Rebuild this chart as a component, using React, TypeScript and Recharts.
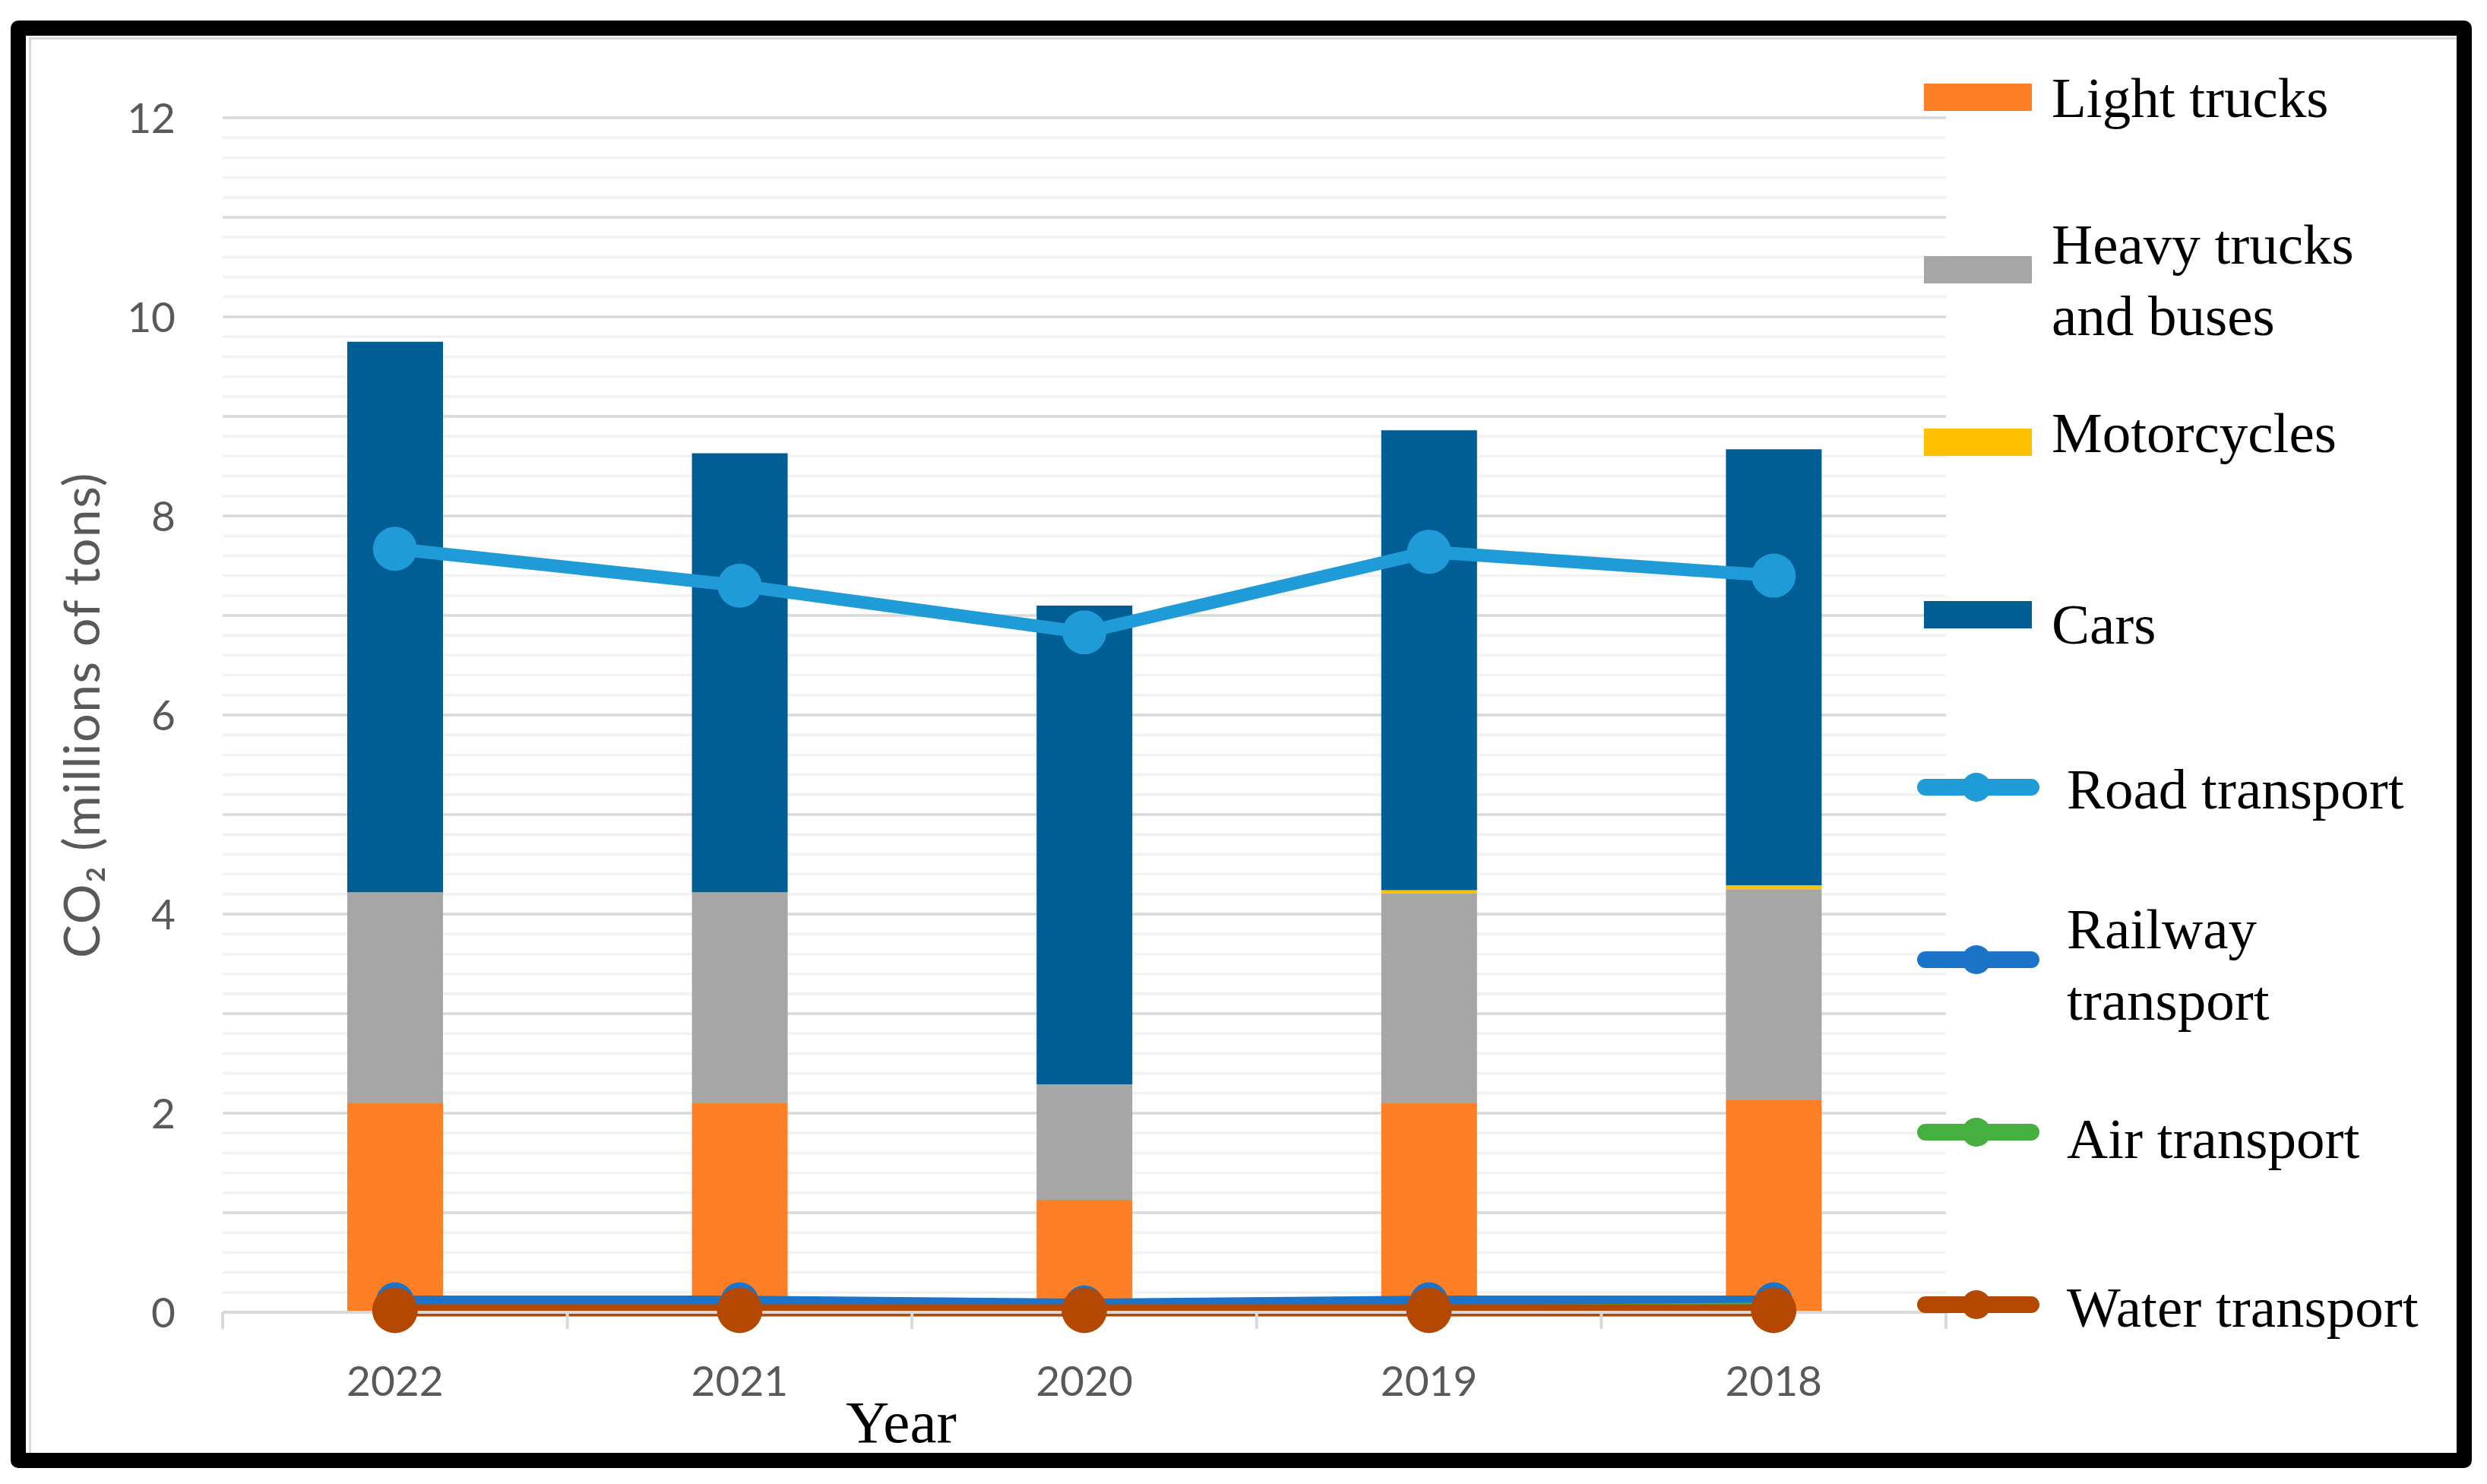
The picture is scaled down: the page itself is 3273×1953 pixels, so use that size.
import React from "react";
import { ComposedChart, Bar, Line, XAxis, YAxis, CartesianGrid, Legend } from "recharts";

// values, 2022 → 2018
const years = ["2022", "2021", "2020", "2019", "2018"];
const lightTrucks = [2.1, 2.1, 1.13, 2.1, 2.13];
const heavyTrucks = [2.12, 2.12, 1.16, 2.11, 2.12];
const motorcycles = [0, 0, 0, 0.03, 0.04];
const cars = [5.53, 4.41, 4.81, 4.62, 4.38];
const roadTransport = [7.67, 7.3, 6.83, 7.64, 7.4];
const railwayTransport = [0.11, 0.11, 0.08, 0.11, 0.11];
const airTransport = [0.03, 0.03, 0.02, 0.03, 0.06];
const waterTransport = [0.02, 0.02, 0.02, 0.02, 0.02];

// gridlines every 0.2, labels every 2
const yTicks = Array.from({ length: 61 }, (_, i) => Math.round(i * 2) / 10);
const yLabels = [0, 2, 4, 6, 8, 10, 12];

const W = 3273;
const H = 1953;
const TICK_FONT = "Lato, 'Open Sans', sans-serif";
const SERIF = "'Liberation Serif', 'Times New Roman', serif";

const data = years.map((year, i) => ({
  year,
  light: lightTrucks[i],
  heavy: heavyTrucks[i],
  moto: motorcycles[i],
  cars: cars[i],
  road: roadTransport[i],
  rail: railwayTransport[i],
  air: airTransport[i],
  water: waterTransport[i],
}));

const legendItems = [
  { label: "Light trucks", color: "#ff7f27", kind: "bar", dy: 1 },
  { label: "Heavy trucks\nand buses", color: "#a6a6a6", kind: "bar", dy: 14 },
  { label: "Motorcycles", color: "#ffc000", kind: "bar", dy: -12 },
  { label: "Cars", color: "#005e94", kind: "bar", dy: 13 },
  { label: "Road transport", color: "#1f9cd8", kind: "line", dy: 3 },
  { label: "Railway\ntransport", color: "#1c74c9", kind: "line", dy: 7 },
  { label: "Air transport", color: "#45b03f", kind: "line", dy: 9 },
  { label: "Water transport", color: "#b54800", kind: "line", dy: 4 },
];

function GridLine(props: any) {
  const major = props.index % 5 === 0;
  return (
    <line
      key={`grid-${props.index}`}
      x1={props.x1}
      y1={props.y1}
      x2={props.x2}
      y2={props.y2}
      stroke={major ? "#d9d9d9" : "#f2f2f2"}
      strokeWidth={3.5}
    />
  );
}

function YTick({ x, y, payload }: any) {
  const v = payload.value;
  if (!yLabels.some((l) => Math.abs(l - v) < 1e-6)) return <g />;
  return (
    <text x={x - 62} y={y} dy="0.36em" textAnchor="end" fontFamily={TICK_FONT} fontSize={55} fill="#595959">
      {Math.round(v)}
    </text>
  );
}

function XTick({ x, y, payload, index }: any) {
  const half = payload?.offset ?? 0;
  return (
    <g>
      <line x1={x - half} x2={x - half} y1={y} y2={y + 22} stroke="#d9d9d9" strokeWidth={4} />
      {index === years.length - 1 && (
        <line x1={x + half} x2={x + half} y1={y} y2={y + 22} stroke="#d9d9d9" strokeWidth={4} />
      )}
      <text x={x} y={y + 110} textAnchor="middle" fontFamily={TICK_FONT} fontSize={55} fill="#595959">
        {payload.value}
      </text>
    </g>
  );
}

function LegendContent() {
  return (
    <div style={{ width: 740, display: "flex", flexDirection: "column" }}>
      {legendItems.map((it) => (
        <div key={it.label} style={{ height: 227, display: "flex", alignItems: "center" }}>
          <svg width={170} height={60} style={{ flex: "none" }}>
            {it.kind === "bar" ? (
              <rect x={9} y={12} width={142} height={36} fill={it.color} />
            ) : (
              <>
                <line x1={11} x2={150} y1={30} y2={30} stroke={it.color} strokeWidth={22} strokeLinecap="round" />
                <circle cx={78} cy={30} r={19} fill={it.color} />
              </>
            )}
          </svg>
          <div
            style={{
              marginLeft: it.kind === "bar" ? 7 : 27,
              transform: `translateY(${it.dy}px)`,
              fontFamily: SERIF,
              fontSize: 75,
              lineHeight: "94px",
              color: "#000",
              whiteSpace: "pre",
            }}
          >
            {it.label}
          </div>
        </div>
      ))}
    </div>
  );
}

export default function App() {
  return (
    <div style={{ position: "absolute", left: 0, top: 0, width: W, height: H, background: "#fff" }}>
      <ComposedChart
        width={W}
        height={H}
        data={data}
        margin={{ top: 155, right: 712, bottom: 26, left: 0 }}
      >
        <CartesianGrid vertical={false} horizontal={GridLine as any} />
        <XAxis
          dataKey="year"
          height={200}
          tickSize={0}
          tickMargin={0}
          interval={0}
          tickLine={false}
          axisLine={{ stroke: "#d9d9d9", strokeWidth: 4 }}
          tick={<XTick />}
          label={{
            value: "Year",
            position: "insideBottom",
            offset: 29,
            dx: -241,
            style: { fontFamily: SERIF, fontSize: 79, fill: "#000" },
          }}
        />
        <YAxis
          width={293}
          domain={[0, 12]}
          ticks={yTicks}
          interval={0}
          tickSize={0}
          tickMargin={0}
          axisLine={false}
          tickLine={false}
          tick={<YTick />}
          label={{
            value: "CO₂ (millions of tons)",
            angle: -90,
            position: "insideLeft",
            offset: 108,
            style: {
              textAnchor: "middle",
              fontFamily: TICK_FONT,
              fontSize: 66,
              letterSpacing: 1.5,
              fill: "#595959",
            },
          }}
        />
        <Legend
          layout="vertical"
          align="center"
          verticalAlign="middle"
          wrapperStyle={{ left: 2523, top: 14 }}
          content={<LegendContent />}
        />
        <Bar dataKey="light" name="Light trucks" stackId="a" fill="#ff7f27" barSize={126} isAnimationActive={false} />
        <Bar dataKey="heavy" name="Heavy trucks and buses" stackId="a" fill="#a6a6a6" barSize={126} isAnimationActive={false} />
        <Bar dataKey="moto" name="Motorcycles" stackId="a" fill="#ffc000" barSize={126} isAnimationActive={false} />
        <Bar dataKey="cars" name="Cars" stackId="a" fill="#005e94" barSize={126} isAnimationActive={false} />
        <Line
          dataKey="road"
          name="Road transport"
          type="linear"
          stroke="#1f9cd8"
          strokeWidth={17}
          dot={{ r: 29, fill: "#1f9cd8", stroke: "none" }}
          activeDot={false}
          isAnimationActive={false}
        />
        <Line
          dataKey="rail"
          name="Railway transport"
          type="linear"
          stroke="#1c74c9"
          strokeWidth={15}
          dot={{ r: 25, fill: "#1c74c9", stroke: "none" }}
          activeDot={false}
          isAnimationActive={false}
        />
        <Line
          dataKey="air"
          name="Air transport"
          type="linear"
          stroke="#45b03f"
          strokeWidth={10}
          dot={{ r: 20, fill: "#45b03f", stroke: "none" }}
          activeDot={false}
          isAnimationActive={false}
        />
        <Line
          dataKey="water"
          name="Water transport"
          type="linear"
          stroke="#b54800"
          strokeWidth={16}
          dot={{ r: 30, fill: "#b54800", stroke: "none" }}
          activeDot={false}
          isAnimationActive={false}
        />
      </ComposedChart>
      {/* black frame around the whole figure */}
      <div
        style={{
          position: "absolute",
          left: 14,
          top: 27,
          width: 3239,
          height: 1905,
          boxSizing: "border-box",
          border: "20px solid #000",
          borderRadius: 10,
          pointerEvents: "none",
        }}
      >
        <div
          style={{
            position: "absolute",
            left: 4,
            top: 2,
            right: 0,
            bottom: 0,
            borderLeft: "3.5px solid #d9d9d9",
            borderTop: "3.5px solid #d9d9d9",
          }}
        />
      </div>
    </div>
  );
}
